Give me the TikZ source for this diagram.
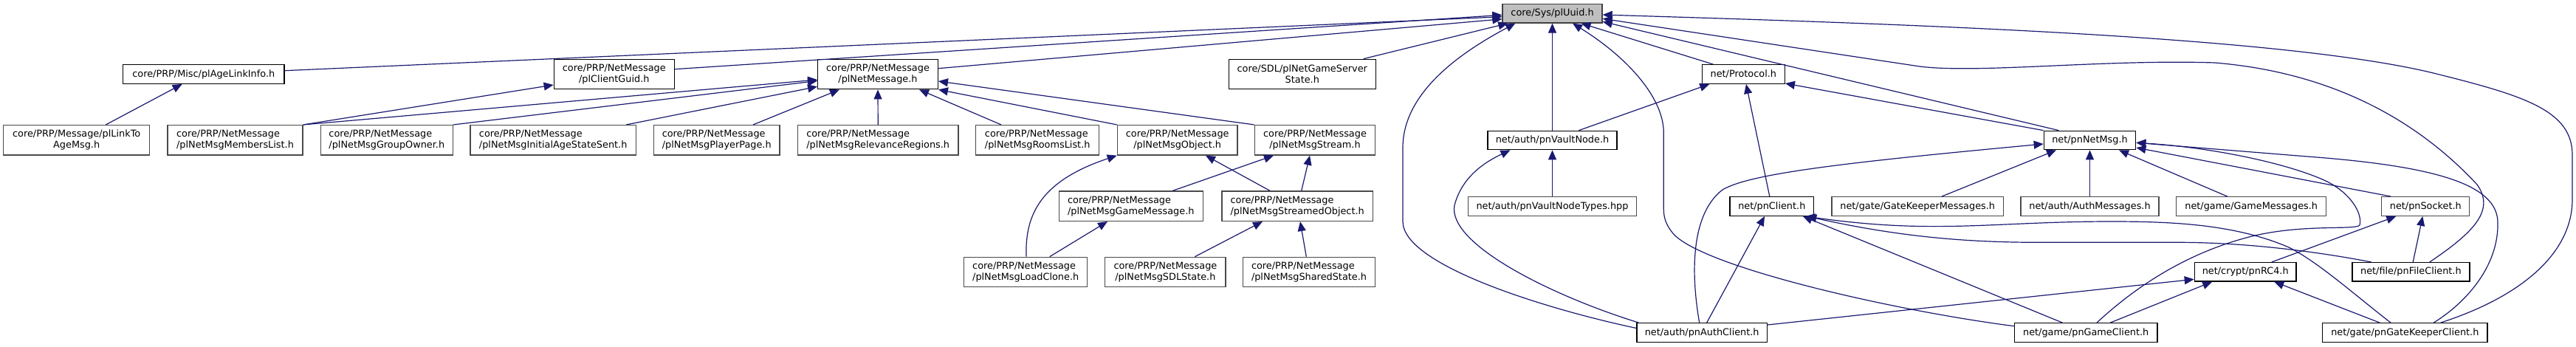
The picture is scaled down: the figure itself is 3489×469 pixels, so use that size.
\documentclass[tikz,border=0pt]{standalone}
\usepackage{fontspec}
\setmainfont{DejaVu Sans}
\usetikzlibrary{arrows.meta,calc}
\definecolor{edgec}{HTML}{191970}
\definecolor{bord}{HTML}{4A4A4A}
\definecolor{rootfill}{HTML}{BFBFBF}
\tikzset{
  box/.style={draw=bord, line width=1.3pt, fill=white, inner sep=0pt, text=black},
  doc/.style={draw=black},
  one/.style={box, minimum height=25.6pt},
  two/.style={box, minimum height=40.4pt},
  lft/.style={two, align=left},
  ctr/.style={two, align=center},
  edge/.style={draw=edgec, line width=1.2pt, -{Triangle[length=13pt,width=11pt]}}
}
\begin{document}
\begin{tikzpicture}[x=1pt,y=-1pt,font=\fontsize{12.85}{15}\selectfont]
\useasboundingbox (0,0) rectangle (3489,469);
% row 0
\node[box, draw=black!75, fill=rootfill, minimum width=135pt, minimum height=25.3pt] (uuid) at (2102.5,18.3) {core/Sys/plUuid.h};
% row 1
\node[one, doc, minimum width=218.3pt] (agelink) at (275.8,100.5) {core/PRP/Misc/plAgeLinkInfo.h};
\node[ctr, doc, minimum width=163pt] (clientguid) at (831.8,100.5) {core/PRP/NetMessage\\/plClientGuid.h};
\node[ctr, doc, minimum width=162.6pt] (netmessage) at (1189,100.5) {core/PRP/NetMessage\\/plNetMessage.h};
\node[ctr, doc, minimum width=199pt] (gameserver) at (1763.8,100.5) {core/SDL/plNetGameServer\\State.h};
\node[one, doc, minimum width=112pt] (protocol) at (2361.3,100.5) {net/Protocol.h};
% row 2
\node[ctr, minimum width=198pt] (linkto) at (103.7,189.8) {core/PRP/Message/plLinkTo\\AgeMsg.h};
\node[lft, minimum width=183pt] (members) at (318.5,189.8) {core/PRP/NetMessage\\/plNetMsgMembersList.h};
\node[lft, minimum width=179pt] (groupowner) at (523.8,189.8) {core/PRP/NetMessage\\/plNetMsgGroupOwner.h};
\node[lft, minimum width=224.3pt] (initial) at (749.2,189.8) {core/PRP/NetMessage\\/plNetMsgInitialAgeStateSent.h};
\node[lft, minimum width=170.7pt] (playerpage) at (970.7,189.8) {core/PRP/NetMessage\\/plNetMsgPlayerPage.h};
\node[lft, minimum width=217.7pt] (relevance) at (1189.2,189.8) {core/PRP/NetMessage\\/plNetMsgRelevanceRegions.h};
\node[lft, minimum width=167pt] (rooms) at (1405.2,189.8) {core/PRP/NetMessage\\/plNetMsgRoomsList.h};
\node[ctr, minimum width=162.7pt] (object) at (1594.7,189.8) {core/PRP/NetMessage\\/plNetMsgObject.h};
\node[ctr, minimum width=163.4pt] (stream) at (1781,189.8) {core/PRP/NetMessage\\/plNetMsgStream.h};
\node[one, doc, minimum width=175pt, minimum height=25.4pt] (vaultnode) at (2102.5,190) {net/auth/pnVaultNode.h};
\node[one, doc, minimum width=124.4pt, minimum height=25.4pt] (netmsg) at (2830.5,190) {net/pnNetMsg.h};
% row 3
\node[lft, minimum width=195pt] (gamemessage) at (1531.8,279.2) {core/PRP/NetMessage\\/plNetMsgGameMessage.h};
\node[lft, minimum width=204.3pt] (streamedobj) at (1757.2,279.2) {core/PRP/NetMessage\\/plNetMsgStreamedObject.h};
\node[one, minimum width=228.4pt] (vaulttypes) at (2102.5,279.5) {net/auth/pnVaultNodeTypes.hpp};
\node[one, doc, minimum width=113.7pt] (pnclient) at (2399.8,279.5) {net/pnClient.h};
\node[one, minimum width=232.3pt] (gkmsgs) at (2597.2,279.5) {net/gate/GateKeeperMessages.h};
\node[one, minimum width=187pt] (authmsgs) at (2830.5,279.5) {net/auth/AuthMessages.h};
\node[one, minimum width=203pt] (gamemsgs) at (3049.2,279.5) {net/game/GameMessages.h};
\node[one, minimum width=119pt] (socket) at (3285.3,279.5) {net/pnSocket.h};
% row 4
\node[lft, minimum width=167pt] (loadclone) at (1389.2,368.5) {core/PRP/NetMessage\\/plNetMsgLoadClone.h};
\node[ctr, minimum width=163.3pt] (sdlstate) at (1578.4,368.5) {core/PRP/NetMessage\\/plNetMsgSDLState.h};
\node[lft, minimum width=179.4pt] (sharedstate) at (1773,368.5) {core/PRP/NetMessage\\/plNetMsgSharedState.h};
\node[one, doc, minimum width=137.7pt, minimum height=25.3pt] (rc4) at (3041.2,368.3) {net/crypt/pnRC4.h};
\node[one, doc, minimum width=159pt, minimum height=25.3pt] (fileclient) at (3265.4,368.3) {net/file/pnFileClient.h};
% row 5
\node[one, doc, minimum width=176.3pt] (authclient) at (2305.2,450.5) {net/auth/pnAuthClient.h};
\node[one, doc, minimum width=193.7pt] (gameclient) at (2825.2,450.5) {net/game/pnGameClient.h};
\node[one, doc, minimum width=223.1pt] (gkclient) at (3257.3,450.5) {net/gate/pnGateKeeperClient.h};

% edges into uuid
\draw[edge] ($(agelink.east)+(0,-4.8)$) -- ($(uuid.west)+(0,4.4)$);
\draw[edge] ($(clientguid.east)+(0,-6.8)$) -- ($(uuid.west)+(0,2)$);
\draw[edge] ($(netmessage.east)+(0,-7.8)$) -- ($(uuid.west)+(0,7.5)$);
\draw[edge] ($(gameserver.north)+(83,0)$) -- ($(uuid.south west)+(8,0)$);
\draw[edge] ($(authclient.west)+(0,-6)$) .. controls (2100,420) and (1900,360) .. (1900,300) -- (1900,200) .. controls (1900,120) and (1990,65) .. ($(uuid.south west)+(18,0)$);
\draw[edge] (vaultnode.north) -- (uuid.south);
\draw[edge] ($(protocol.north)+(-41,0)$) -- ($(uuid.south)+(39,0)$);
\draw[edge] ($(gameclient.west)+(0,-8.8)$) .. controls (2560,420) and (2300,360) .. (2265,315) .. controls (2253.3,300) and (2253.3,290) .. (2253.3,280) -- (2253.3,180) .. controls (2253.3,130) and (2200,75) .. ($(uuid.south)+(27.5,0)$);
\draw[edge] ($(netmsg.north)+(-42.2,0)$) -- ($(uuid.east)+(0,11)$);
\draw[edge] ($(fileclient.north)+(25.3,0)$) .. controls (3350,315) and (3380,285) .. (3355,250) .. controls (3290,180) and (3180,100) .. (3000,85) .. controls (2850,80) and (2680,100) .. (2600,90) -- ($(uuid.east)+(0,7)$);
\draw[edge] ($(gkclient.north)+(48.4,0)$) .. controls (3420,400) and (3484,340) .. (3484,270) -- (3484,210) .. controls (3484,150) and (3420,130) .. (3300,100) .. controls (3100,50) and (2600,33) .. ($(uuid.east)+(0,1.7)$);

% left part
\draw[edge] ($(linkto.north)+(39.6,0)$) -- ($(agelink.south)+(-29.1,0)$);
\draw[edge] (members.north east) -- ($(clientguid.west)+(0,14.5)$);
\draw[edge] (members.north east) -- ($(netmessage.west)+(0,7.5)$);
\draw[edge] (groupowner.north east) -- ($(netmessage.west)+(0,9)$);
\draw[edge] ($(initial.north)+(99,0)$) -- ($(netmessage.west)+(0,16.8)$);
\draw[edge] ($(playerpage.north)+(49.3,0)$) -- ($(netmessage.south)+(-52,0)$);
\draw[edge] (relevance.north) -- (netmessage.south);
\draw[edge] ($(rooms.north)+(-49.2,0)$) -- ($(netmessage.south)+(56,0)$);
\draw[edge] (object.north west) -- (netmessage.south east);
\draw[edge] (stream.north west) -- ($(netmessage.east)+(0,9.5)$);
\draw[edge] ($(loadclone.north)+(0.8,0)$) .. controls (1388,290) and (1410,245) .. (object.south west);
\draw[edge] ($(gamemessage.north)+(56.5,0)$) -- ($(stream.south)+(-56,0)$);
\draw[edge] ($(streamedobj.north)+(-37.2,0)$) -- ($(object.south)+(38.3,0)$);
\draw[edge] ($(loadclone.north)+(32.5,0)$) -- ($(gamemessage.south)+(-31.8,0)$);
\draw[edge] ($(sdlstate.north)+(40,0)$) -- ($(streamedobj.south)+(-47.2,0)$);
\draw[edge] ($(sharedstate.north)+(-3.7,0)$) -- ($(streamedobj.south)+(3.8,0)$);
\draw[edge] ($(streamedobj.north)+(5.5,0)$) -- ($(stream.south)+(-7,0)$);

% net part
\draw[edge] ($(authclient.north west)+(3,0)$) .. controls (2100,400) and (1960,330) .. (1970,278) .. controls (1980,240) and (2010,220) .. ($(vaultnode.south)+(-57,0)$);
\draw[edge] (vaulttypes.north) -- (vaultnode.south);
\draw[edge] ($(vaultnode.north)+(35.8,0)$) -- ($(protocol.south)+(-46,0)$);
\draw[edge] (netmsg.north west) -- ($(protocol.south east)+(0,-1)$);
\draw[edge] ($(pnclient.north)+(-3,0)$) -- ($(protocol.south)+(3.7,0)$);
\draw[edge] ($(authclient.north)+(-3.5,0)$) .. controls (2290,370) and (2290,290) .. (2333,257) .. controls (2370,235) and (2500,220) .. ($(netmsg.west)+(0,5)$);
\draw[edge] ($(authclient.north)+(6.5,0)$) -- ($(pnclient.south)+(-9.8,0)$);
\draw[edge] ($(gameclient.north)+(-31.9,0)$) -- ($(pnclient.south)+(42,0)$);
\draw[edge] ($(fileclient.north)+(-53.6,0)$) .. controls (3150,343) and (3050,328.3) .. (2950,328.3) -- (2760,328.3) .. controls (2650,328.3) and (2560,318) .. ($(pnclient.south east)+(-10,0)$);
\draw[edge] ($(gkclient.north)+(-19.3,0)$) .. controls (3190,400) and (3140,355) .. (3100,335) .. controls (3030,305) and (2950,300) .. (2860,300) .. controls (2700,300) and (2620,318) .. ($(pnclient.south east)+(-12,0)$);
\draw[edge] ($(gkmsgs.north)+(32.8,0)$) -- ($(netmsg.south)+(-45.5,0)$);
\draw[edge] (authmsgs.north) -- (netmsg.south);
\draw[edge] ($(gamemsgs.north)+(-32.5,0)$) -- ($(netmsg.south)+(39.5,0)$);
\draw[edge] ($(socket.north)+(-47.3,0)$) -- ($(netmsg.east)+(0,10)$);
\draw[edge] ($(gkclient.north)+(39,0)$) .. controls (3340,410) and (3385,360) .. (3383,300) .. controls (3381,250) and (3300,225) .. (3125,212) -- ($(netmsg.east)+(0,3.3)$);
\draw[edge] ($(gameclient.north)+(14.8,0)$) .. controls (2880,400) and (2950,345) .. (3050,320) .. controls (3120,303) and (3190,312) .. (3196,305) .. controls (3200,290) and (3185,262) .. (3150,245) .. controls (3100,222) and (3000,200) .. ($(netmsg.east)+(0,3.3)$);
\draw[edge] ($(authclient.east)+(0,-10.5)$) -- ($(rc4.west)+(0,10)$);
\draw[edge] ($(gameclient.north)+(33.1,0)$) -- ($(rc4.south)+(-45,0)$);
\draw[edge] ($(gkclient.north)+(-34.3,0)$) -- ($(rc4.south)+(39,0)$);
\draw[edge] ($(rc4.north)+(35.5,0)$) -- ($(socket.south)+(-40,0)$);
\draw[edge] ($(fileclient.north)+(2.8,0)$) -- ($(socket.south)+(-4,0)$);
\end{tikzpicture}
\end{document}
